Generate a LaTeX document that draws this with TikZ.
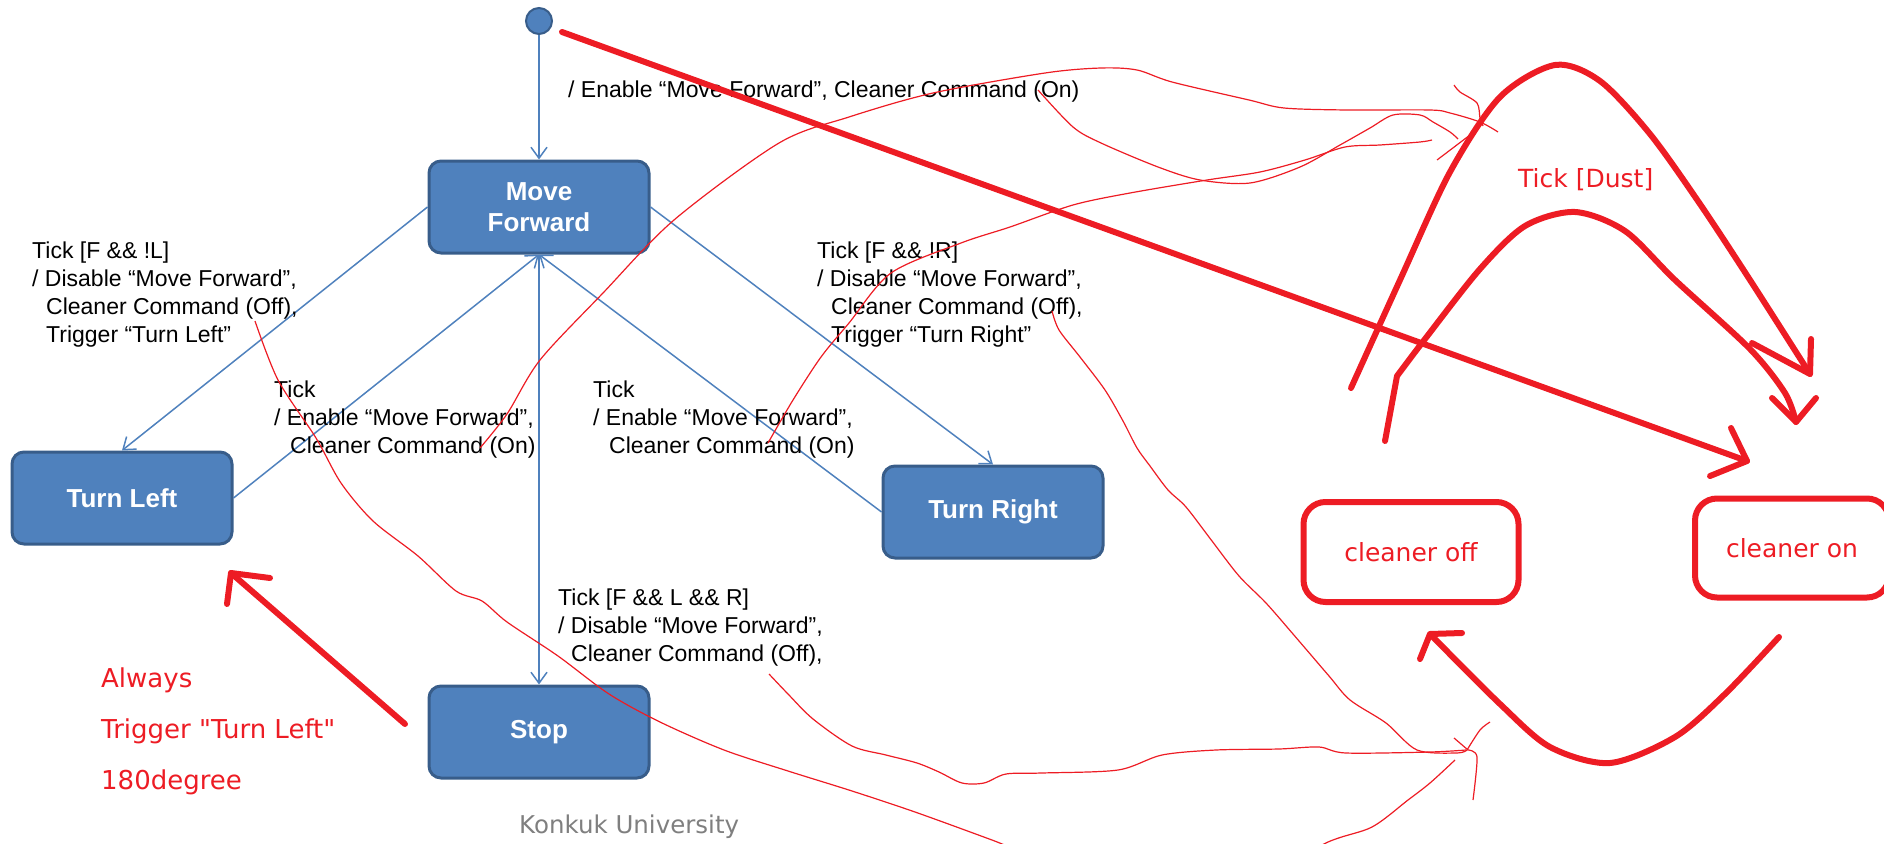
\documentclass[tikz,border=0pt]{standalone}
\usepackage{fontspec}
\setmainfont{Liberation Sans}
\setsansfont{Liberation Sans}
\newfontfamily\widesans{DejaVu Sans}
\usetikzlibrary{arrows.meta}

\definecolor{stateblue}{RGB}{79,129,189}
\definecolor{stateedge}{RGB}{56,93,138}
\definecolor{penred}{RGB}{237,28,36}
\definecolor{footgray}{RGB}{127,127,127}

\tikzset{
		statebox/.style = {shape=rectangle, rounded corners=12pt,
				draw=stateedge, line width=3pt, fill=stateblue,
				minimum width=220pt, minimum height=92pt, align=center,
				text=white, font=\bfseries\fontsize{26}{31}\selectfont},
		startdot/.style = {circle, draw=stateedge, line width=2pt,
				fill=stateblue, minimum size=26pt, inner sep=0pt},
		trans/.style    = {draw=stateblue, line width=1.5pt,
				-{Straight Barb[length=11pt,width=16pt]}},
		guard/.style    = {anchor=base west, inner sep=0pt, align=left,
				text=black, font=\fontsize{23}{27.7}\selectfont},
		redpen/.style   = {draw=penred, line width=6pt,
				line cap=round, line join=round},
		penbox/.style   = {shape=rectangle, rounded corners=22pt,
				draw=penred, line width=6pt, text=penred,
				font=\widesans\fontsize{25}{30}\selectfont},
		pentext/.style  = {anchor=base west, inner sep=0pt, text=penred,
				font=\widesans\fontsize{26}{30}\selectfont},
		scribble/.style = {draw=penred, line width=1.2pt, line join=round}
	}

\begin{document}
\begin{tikzpicture}[x=1pt, y=-1pt]
		\useasboundingbox (0,0) rectangle (1884,843);
		\clip (0,0) rectangle (1884,843);

		% states
		\node[startdot] (init) at (539,21) {};
		\node[statebox] (mf) at (539,207) {Move\\Forward};
		\node[statebox] (tl) at (122,498) {Turn Left};
		\node[statebox] (tr) at (993,512) {Turn Right};
		\node[statebox] (stop) at (539,732) {Stop};

		\draw[trans] (init) -- (mf);
		\draw[trans] (mf.west) -- (tl.north);
		\draw[trans] (tl.east) -- (mf.south);
		\draw[trans] (mf.east) -- (tr.north);
		\draw[trans] (tr.west) -- (mf.south);
		\draw[trans] (mf.south) -- (stop.north);

		% labels sit on the baseline of their last line
		\node[guard] (g0) at (568,97) {/ Enable “Move Forward”, Cleaner Command (On)};
		\node[guard] (g1) at (32,342) {Tick [F \&\& !L]\\/ Disable “Move Forward”,\\\hspace*{14pt}Cleaner Command (Off),\\\hspace*{14pt}Trigger “Turn Left”};
		\node[guard] (g2) at (274,453) {Tick\\/ Enable “Move Forward”,\\\hspace*{16pt}Cleaner Command (On)};
		\node[guard] (g3) at (593,453) {Tick\\/ Enable “Move Forward”,\\\hspace*{16pt}Cleaner Command (On)};
		\node[guard] (g4) at (817,342) {Tick [F \&\& !R]\\/ Disable “Move Forward”,\\\hspace*{14pt}Cleaner Command (Off),\\\hspace*{14pt}Trigger “Turn Right”};
		\node[guard] (g5) at (558,661) {Tick [F \&\& L \&\& R]\\/ Disable “Move Forward”,\\\hspace*{13pt}Cleaner Command (Off),};

		\node[anchor=base west, inner sep=0pt, text=footgray,
			font=\widesans\fontsize{24.5}{29}\selectfont] (konkuk) at (519,833) {Konkuk University};

		% hand-drawn cleaner states
		\node[penbox, minimum width=215pt, minimum height=100pt] (off) at (1411,552) {cleaner off};
		\node[penbox, minimum width=194pt, minimum height=99pt] (on) at (1792,548) {cleaner on};
		\node[pentext, font=\widesans\fontsize{25}{30}\selectfont] (dust) at (1518,187) {Tick [Dust]};
		\node[pentext] (always) at (101,687) {Always};
		\node[pentext] (trig) at (101,738) {Trigger "Turn Left"};
		\node[pentext] (deg) at (101,789) {180degree};

		\coordinate (pen start) at (562,32);
		\coordinate (on tip) at (1747,461);
		\coordinate (stop tail) at (405,724);
		\coordinate (tl tip) at (231,573);
		\coordinate (off out) at (1351,388);
		\coordinate (on in) at (1810,374);
		\coordinate (off out2) at (1385,441);
		\coordinate (on in2) at (1796,422);
		\coordinate (on out) at (1779,637);
		\coordinate (off in) at (1430,634);

		\draw[redpen] (pen start) -- (on tip);
		\draw[redpen] (on tip) +(-16,-33) -- (on tip) -- +(-37,15);
		\draw[redpen] (stop tail) -- (tl tip);
		\draw[redpen] (tl tip) +(39,5) -- (tl tip) -- +(-4,31);
		\draw[redpen] plot[smooth] coordinates {(off out) (1400,280) (1450,172) (1500,97) (1555,65) (1600,81) (1650,134) (1700,204) (1750,280) (on in)};
		\draw[redpen] (on in) +(-58,-31) -- (on in) -- +(1,-35);
		\draw[redpen] (off out2) -- plot[smooth] coordinates {(1397,376) (1425,339) (1480,269) (1525,226) (1575,212) (1625,231) (1675,280) (1750,349) (1785,393) (on in2)};
		\draw[redpen] (on in2) +(-24,-24) -- (on in2) -- +(20,-24);
		\draw[redpen] plot[smooth] coordinates {(on out) (1725,694) (1675,737) (1610,763) (1550,747) (1500,704) (off in)};
		\draw[redpen] (off in) +(32,-1) -- (off in) -- +(-10,25);

		% thin marks
		\draw[scribble] plot[smooth] coordinates {(480,448) (507,414) (540,360) (603,293) (674,220) (779,143) (849,117) (933,93) (1045,73) (1101,68) (1137,70) (1172,82) (1249,100) (1284,108) (1347,110) (1430,110) (1450,113) (1480,122) (1498,132)};
		\draw[scribble] plot[smooth] coordinates {(768,443) (793,400) (821,357) (849,323) (891,273) (961,243) (1010,227) (1073,205) (1130,193) (1207,180) (1260,172) (1305,160) (1345,147) (1380,145) (1420,142) (1432,140)};
		\draw[scribble] plot[smooth] coordinates {(1038,90) (1073,127) (1101,143) (1158,167) (1200,180) (1250,183) (1300,167) (1340,145) (1370,128) (1393,115) (1420,115) (1433,122) (1450,132) (1458,139)};
		\draw[scribble] plot[smooth] coordinates {(1454,85) (1460,92) (1477,103) (1480,118) (1483,126)};
		\draw[scribble] (1437,160) -- (1470,135);
		\draw[scribble] plot[smooth] coordinates {(255,321) (278,380) (316,438) (341,483) (373,521) (418,556) (456,591) (482,601) (507,622) (558,656) (609,694) (660,722) (724,750) (788,771) (852,791) (915,812) (992,840) (1100,880) (1250,880) (1328,842) (1372,827) (1408,800) (1430,783) (1455,760)};
		\draw[scribble] plot[smooth] coordinates {(769,674) (788,694) (813,719) (852,746) (886,755) (917,763) (939,772) (962,783) (984,783) (1006,774) (1042,773) (1118,770) (1162,755) (1216,750) (1279,749) (1319,747) (1346,753) (1430,752) (1466,750)};
		\draw[scribble] plot[smooth] coordinates {(1052,311) (1059,330) (1080,357) (1105,390) (1123,421) (1137,448) (1150,466) (1168,490) (1186,507) (1212,541) (1239,576) (1266,603) (1293,634) (1329,676) (1350,700) (1386,723) (1417,750) (1457,753) (1467,750)};
		\draw[scribble] (1454,738) -- (1468,750);
		\draw[scribble] plot[smooth] coordinates {(1490,722) (1480,730) (1467,750)};
		\draw[scribble] plot[smooth] coordinates {(1468,750) (1477,757) (1473,800)};
	\end{tikzpicture}
\end{document}
